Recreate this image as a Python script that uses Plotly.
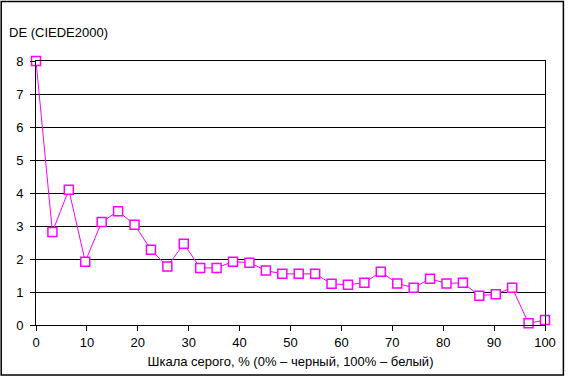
import plotly.graph_objects as go

n_points = 32
x_percent = [i * 100 / 31 for i in range(n_points)]
de_values = [8.0, 2.82, 4.10, 1.92, 3.12, 3.45, 3.04, 2.28, 1.77, 2.46,
             1.73, 1.73, 1.92, 1.89, 1.65, 1.55, 1.55, 1.55, 1.25, 1.22,
             1.28, 1.61, 1.26, 1.13, 1.40, 1.26, 1.28, 0.89, 0.93, 1.13,
             0.05, 0.15]
x_ticks = [0, 10, 20, 30, 40, 50, 60, 70, 80, 90, 100]
y_ticks = [0, 1, 2, 3, 4, 5, 6, 7, 8]

fig = go.Figure()
fig.add_trace(go.Scatter(
    x=x_percent, y=de_values, mode="lines+markers",
    line=dict(color="#FF00FF", width=1),
    marker=dict(symbol="square", size=9, color="white",
                line=dict(color="#FF00FF", width=1.5)),
    cliponaxis=False, showlegend=False,
))

font = dict(family="Liberation Sans, Arial, sans-serif", size=13, color="black")
fig.update_layout(
    width=568, height=379,
    margin=dict(l=36, r=20, t=61, b=52),
    paper_bgcolor="white", plot_bgcolor="white",
    font=font,
    xaxis=dict(range=[0, 100], tickvals=x_ticks, ticks="outside", ticklen=5,
               tickcolor="black", showline=True, linecolor="black", linewidth=1,
               mirror=True, showgrid=False, zeroline=False,
               title=dict(text="Шкала серого, % (0% – черный, 100% – белый)",
                          font=font, standoff=8)),
    yaxis=dict(range=[0, 8], tickvals=y_ticks, ticks="outside", ticklen=5,
               tickcolor="black", showline=True, linecolor="black", linewidth=1,
               mirror=True, showgrid=True, gridcolor="black", gridwidth=1,
               zeroline=False, ticklabelstandoff=4),
)
fig.add_annotation(text="DE (CIEDE2000)", xref="paper", yref="paper",
                   x=(9 - 36) / 512, y=(327 - 32) / 266, xanchor="left",
                   yanchor="middle", showarrow=False, font=font, xshift=-2)
fig.add_shape(type="rect", xref="paper", yref="paper",
              x0=(1 - 36) / 512, x1=(566.5 - 36) / 512,
              y0=(327 - 377.5) / 266, y1=(327 - 1) / 266,
              line=dict(color="black", width=1.5), layer="above")
fig.write_html("out.html", config={"displayModeBar": False},
               post_script="document.body.style.margin='0';document.body.style.overflow='hidden';")
